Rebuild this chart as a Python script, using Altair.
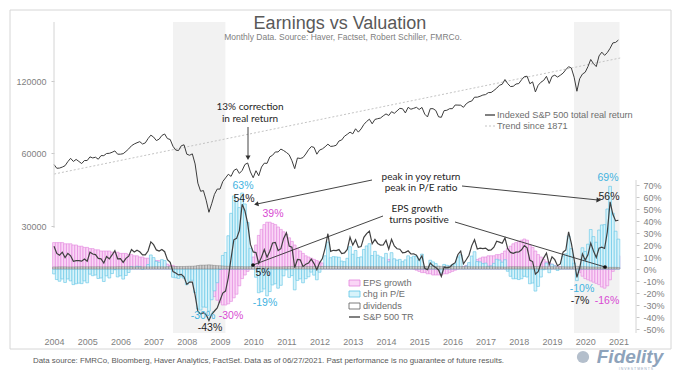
import math
import altair as alt
import pandas as pd

# ------------------------------------------------------------------
# Values: monthly, June 2004 .. June 2021
# ------------------------------------------------------------------
FIRST_YEAR, FIRST_MONTH = 2004, 6

# Indexed S&P 500 total real return (left, log axis)
real_return = [
    54000, 52100, 52200, 52700, 53400, 55500, 57300,
    55600, 56700, 55600, 54500, 56100, 56100, 58100, 57500, 57900, 56800, 58800, 58800,
    60000, 60100, 60700, 61500, 59600, 59600, 59900, 61200, 62700, 64600, 65700, 66500,
    67200, 65700, 66400, 69200, 71500, 70200, 67900, 68800, 71300, 72300, 69200, 68600,
    64300, 62000, 61700, 64600, 65200, 59600, 59000, 59800, 54300, 45200, 41800, 42100,
    38400, 34200, 37100, 40600, 42700, 42700, 45900, 47500, 49200, 48200, 51000, 51800,
    49600, 51000, 54000, 54800, 50300, 47600, 50900, 48500, 52700, 54700, 54600, 58100,
    59000, 60900, 60900, 62600, 61700, 60600, 59300, 56000, 51900, 57500, 57200, 57700,
    59700, 62200, 64100, 63600, 59600, 62000, 62700, 64000, 65600, 64200, 64400, 64900,
    67600, 68300, 70800, 72100, 73600, 72400, 76000, 73600, 75900, 79200, 81500, 83300,
    79700, 83100, 83700, 84200, 86000, 87600, 86300, 89500, 88100, 90200, 92400, 92000,
    88400, 93300, 91600, 92400, 93300, 91400, 93200, 87400, 85100, 92100, 92100, 90500,
    85200, 84800, 90400, 90700, 92100, 92100, 95400, 95300, 95200, 93300, 96500, 98300,
    99100, 102800, 102800, 103700, 104900, 105400, 107400, 107500, 109600, 112000, 115200, 116300,
    121700, 117000, 113800, 114100, 116600, 117100, 121400, 125100, 125600, 116900, 119000, 108100,
    115200, 118600, 120700, 125500, 117200, 125300, 126900, 124600, 126800, 129400, 133800, 137600,
    135800, 124400, 108800, 122600, 128200, 130500, 137700, 147400, 141600, 137700, 152500, 158100,
    153400, 157400, 164100, 172700, 173600, 177500,
]

# S&P 500 total return, year over year, % (right axis)
tr_yoy = [
    19, 13, 11.5, 14, 9.5, 13, 11,
    6.4, 7, 7, 6.5, 8.3, 6.4, 14, 12.5, 12, 8.8, 8.4, 5,
    10.4, 8.4, 11.7, 15.3, 8.5, 8.6, 5.5, 8.9, 10.7, 16.2, 14.2, 15.6,
    14.3, 11.8, 11.7, 15, 22.6, 20.3, 15.9, 15, 16.3, 14.4, 7.7, 5.5,
    -2.1, -3.4, -4.9, -4.5, -6.6, -12.8, -10.9, -11, -21.7, -35.4, -37.5, -36.5,
    -38.1, -43, -37.7, -35, -32.4, -26.2, -20.1, -18.4, -7.3, 8.9, 24.3, 25.5,
    32, 54, 48.5, 38, 20.5, 14.2, 13.7, 4.7, 9.9, 16.2, 9.8, 14.8,
    21.7, 22.2, 15.4, 16.9, 25.5, 30.1, 19.2, 18.2, 1.1, 7.9, 7.6, 2,
    4, 4.9, 8.2, 4.5, -0.6, 5.1, 8.7, 17.4, 29.4, 14.7, 15.6, 15.4,
    16.2, 12.9, 13.4, 16.3, 26.5, 19.9, 24.3, 18.1, 18.7, 26.4, 29.5, 31.6,
    21, 24.7, 21.3, 19.9, 20, 24, 16.5, 24.7, 19.2, 16.9, 16.5, 13.4,
    13.9, 15.2, 12.5, 12.7, 11.5, 7.3, 11, 0.5, -0.6, 5, 2.6, 1.3,
    -0.8, -6.2, 1.6, 1, 1.5, 3.7, 5.3, 12.1, 14.9, 4.3, 7.7, 11.5,
    19.5, 24.4, 16.7, 17.4, 17, 17.4, 15.6, 15.9, 18.2, 23.1, 22.4, 21.4,
    25.9, 16.8, 13.8, 13.1, 14.1, 14.2, 16, 19.4, 17.7, 7.3, 6.2, -4.2,
    -2.2, 4.6, 9.3, 13.3, 3.7, 10.2, 7.8, 2.8, 4.2, 14, 15.8, 30.9,
    21.3, 8.1, -7, 0.8, 12.6, 7.4, 11.8, 21.6, 15, 9.6, 17.3, 18.2,
    17.1, 31, 56, 45.6, 40.1, 40.6,
]

# EPS growth, %
eps_growth = [
    22, 22, 22, 22, 21, 21, 21,
    20, 20, 19, 19, 18, 18, 17, 17, 16, 16, 15, 15,
    15, 15, 14, 14, 14, 13, 13, 13, 12, 12, 11, 11,
    10, 10, 9, 9, 8, 8, 7, 7, 6, 5, 4, 3,
    3, 2, 1, 0, -1, -2, -3, -4, -5, -6, -8, -10,
    -12, -15, -19, -23, -26, -28, -30, -30, -29, -27, -24, -21,
    -14, -8, -5, -2, 1, 10, 20, 28, 33, 37, 39, 39,
    38, 37, 35, 33, 31, 29, 26, 23, 20, 17, 15, 13,
    11, 10, 9, 8, 7, 6, 5, 4, 4, 3, 3, 3,
    4, 4, 5, 5, 5, 5, 6, 6, 6, 7, 7, 7,
    7, 7, 7, 7, 8, 8, 8, 8, 8, 7, 6, 5,
    4, 2, 1, 0, -1, -2, -3, -3, -4, -4, -5, -5,
    -5, -5, -4, -4, -3, -2, -1, 0, 1, 2, 3, 4,
    6, 7, 8, 9, 10, 10, 11, 11, 11, 12, 12, 13,
    15, 17, 19, 21, 22, 23, 24, 25, 24, 20, 18, 15,
    12, 10, 8, 6, 5, 4, 3, 2, 2, 1, 1, 1,
    2, 1, 1, -3, -6, -8, -9, -10, -11, -12, -13, -15,
    -16, -14, -9, -2, 5, 11,
]

# change in P/E, %
pe_change = [
    -4.1, -8.8, -10.2, -8.3, -11.2, -8.3, -9.9,
    -13.0, -12.3, -11.8, -12.2, -9.9, -11.5, -4.3, -5.6, -5.0, -7.9, -7.5, -10.4,
    -5.7, -7.5, -3.8, -0.6, -6.6, -5.7, -8.4, -5.4, -2.9, 2.0, 1.1, 2.3,
    2.1, -0.2, 0.6, 3.7, 11.7, 9.5, 6.4, 5.6, 7.8, 7.0, 1.6, 0.5,
    -6.9, -7.3, -7.8, -6.5, -7.7, -13.1, -10.2, -9.4, -19.7, -33.4, -34.2, -31.7,
    -31.9, -35.1, -25.6, -18.2, -11.4, -0.3, 11.3, 13.7, 27.7, 46.4, 60.9, 56.3,
    51.2, 63.3, 54.2, 38.8, 17.3, 2.0, -6.9, -19.8, -18.9, -16.6, -22.4, -18.8,
    -13.3, -12.3, -16.0, -13.6, -5.7, -0.7, -7.0, -5.5, -17.4, -9.5, -8.2, -11.5,
    -8.1, -6.5, -2.6, -5.1, -9.0, -2.7, 1.6, 11.0, 22.5, 9.4, 10.3, 10.1,
    9.8, 6.6, 6.1, 8.9, 18.6, 12.3, 15.4, 9.5, 10.1, 16.3, 19.2, 21.1,
    11.2, 14.7, 11.5, 10.2, 9.3, 13.0, 6.0, 13.6, 8.5, 7.4, 8.0, 6.1,
    7.6, 11.0, 9.4, 10.7, 10.6, 7.4, 12.4, 1.5, 1.5, 7.3, 5.9, 4.5,
    2.3, -3.4, 3.8, 3.1, 2.6, 3.8, 4.3, 10.1, 11.8, 0.3, 2.6, 5.3,
    10.8, 14.4, 6.2, 5.9, 4.5, 4.9, 2.3, 2.6, 4.7, 8.1, 7.5, 5.7,
    7.7, -1.9, -6.1, -8.2, -8.1, -8.8, -8.1, -6.1, -6.7, -12.3, -11.7, -18.4,
    -14.5, -6.7, -0.6, 5.0, -3.1, 4.0, 2.7, -1.2, 0.2, 10.9, 12.7, 27.6,
    17.0, 5.0, -9.7, 1.9, 17.7, 14.6, 20.7, 32.9, 27.0, 22.3, 32.5, 36.7,
    37.0, 50.0, 68.9, 46.5, 31.5, 24.9,
]

# dividends, %
dividends = [
    1.7, 1.7, 1.8, 1.8, 1.8, 1.7, 1.7,
    1.7, 1.8, 1.8, 1.9, 1.8, 1.8, 1.8, 1.8, 1.8, 1.9, 1.8, 1.8,
    1.8, 1.8, 1.8, 1.8, 1.9, 1.9, 1.9, 1.9, 1.9, 1.8, 1.8, 1.8,
    1.8, 1.8, 1.8, 1.8, 1.8, 1.8, 1.9, 1.9, 1.9, 1.8, 1.9, 2.0,
    2.0, 2.1, 2.1, 2.1, 2.1, 2.2, 2.3, 2.3, 2.5, 2.9, 3.2, 3.2,
    3.3, 3.5, 3.3, 3.0, 2.8, 2.7, 2.5, 2.3, 2.2, 2.1, 2.0, 2.0,
    2.0, 2.0, 1.9, 1.9, 2.0, 2.1, 2.0, 2.1, 2.0, 1.9, 1.9, 1.9,
    1.8, 1.8, 1.8, 1.8, 1.9, 1.9, 2.0, 2.1, 2.2, 2.0, 2.0, 2.0,
    2.0, 2.0, 2.0, 2.0, 2.1, 2.1, 2.1, 2.1, 2.1, 2.1, 2.1, 2.1,
    2.0, 2.0, 2.0, 2.0, 1.9, 2.0, 1.9, 2.0, 1.9, 1.9, 1.9, 1.9,
    1.9, 1.9, 1.9, 1.9, 1.9, 1.9, 1.9, 1.9, 1.9, 1.9, 1.9, 1.9,
    2.0, 2.0, 2.0, 2.0, 2.0, 2.0, 2.0, 2.1, 2.2, 2.1, 2.1, 2.1,
    2.2, 2.2, 2.1, 2.1, 2.1, 2.1, 2.0, 2.0, 2.0, 2.0, 2.0, 2.0,
    1.9, 1.9, 1.9, 1.9, 1.9, 1.9, 1.9, 1.9, 1.9, 1.8, 1.8, 1.8,
    1.7, 1.8, 1.9, 1.9, 1.9, 1.9, 1.8, 1.8, 1.8, 1.9, 1.9, 2.1,
    2.0, 1.9, 1.9, 1.9, 2.0, 1.9, 1.9, 1.9, 1.9, 1.9, 1.8, 1.8,
    1.8, 1.9, 2.2, 2.0, 1.9, 1.9, 1.8, 1.7, 1.7, 1.7, 1.6, 1.5,
    1.5, 1.5, 1.4, 1.4, 1.4, 1.3,
]

# Trend since 1871 (straight on the log axis): end points
trend_time = [2004.42, 2021.47]
trend_value = [49300, 149500]

# shaded periods
shade_start = [2008.0, 2020.08]
shade_end = [2009.58, 2021.45]

years = list(range(2004, 2022))
left_ticks = [30000, 60000, 120000]
right_ticks = [70, 60, 50, 40, 30, 20, 10, 0, -10, -20, -30, -40, -50]

# ------------------------------------------------------------------
# Layout (page pixels)
# ------------------------------------------------------------------
PLOT_L, PLOT_T, PLOT_W, PLOT_H = 54, 12, 582, 321
PX_PER_YEAR = 33.2
X0 = FIRST_YEAR + (FIRST_MONTH - 1) / 12
XDOM = [X0, X0 + PLOT_W / PX_PER_YEAR]
ZERO_Y, PX_PER_PCT = 269, 1.2
RDOM = [-(PLOT_T + PLOT_H - ZERO_Y) / PX_PER_PCT, (ZERO_Y - PLOT_T) / PX_PER_PCT]
Y_120K, PX_PER_DOUBLING = 81, 72.5
LDOM = [120000 * 2 ** (-(PLOT_T + PLOT_H - Y_120K) / PX_PER_DOUBLING),
        120000 * 2 ** ((Y_120K - PLOT_T) / PX_PER_DOUBLING)]


def tx(px):
    return X0 + (px - PLOT_L) / PX_PER_YEAR


def py(px):
    return (ZERO_Y - px) / PX_PER_PCT


FONT = "Liberation Sans"
NOTE_FONT = "Lato"
GREY = "#7f7f7f"
PINK, PINK_FILL = "#e384dd", "#fad6f6"
CYAN, CYAN_FILL = "#5ec4e6", "#d8f3fa"
PINK_T, CYAN_T, BLACK_T = "#d84ad2", "#43b3df", "#1e1e1e"

n = len(real_return)
t = [FIRST_YEAR + (FIRST_MONTH - 1 + i) / 12 for i in range(n)]
df = pd.DataFrame({
    "t": t,
    "t0": [v - 1 / 24 for v in t],
    "t1": [v + 1 / 24 for v in t],
    "real": real_return,
    "yoy": tr_yoy,
    "eps": eps_growth,
    "pe": pe_change,
    "div": dividends,
})
trend_df = pd.DataFrame({"t": trend_time, "v": trend_value})
shade_df = pd.DataFrame({"b0": shade_start, "b1": shade_end})
one = pd.DataFrame({"a": [0]})

XS = alt.Scale(domain=XDOM, nice=False, zero=False)
XAX = alt.Axis(values=[y + (FIRST_MONTH - 1) / 12 for y in years], labelExpr="floor(datum.value)",
               domain=False, ticks=False, grid=False, labelFont=FONT, labelFontSize=9,
               labelColor=GREY, labelPadding=4, labelOverlap=False, labelFlush=False)
LS = alt.Scale(type="log", domain=LDOM, nice=False)
LAX = alt.Axis(values=left_ticks, format="d", orient="left", domain=False, grid=False,
               tickSize=3, tickColor="#c8c8c8", labelPadding=5, labelFont=FONT,
               labelFontSize=9, labelColor=GREY)
RS = alt.Scale(domain=RDOM, nice=False, zero=False)
RAX = alt.Axis(values=right_ticks, labelExpr="datum.value + '%'", orient="right", domain=False,
               grid=False, tickSize=3, tickColor="#c8c8c8", labelPadding=4, labelFont=FONT,
               labelFontSize=9, labelColor=GREY)


def X(f="t:Q"):
    return alt.X(f, scale=XS, axis=XAX, title=None)


def YL(f):
    return alt.Y(f, scale=LS, axis=LAX, title=None)


def YR(f):
    return alt.Y(f, scale=RS, axis=RAX, title=None)


# ---------------- left (log) group ----------------
shade = alt.Chart(shade_df).mark_rect(color="#f2f2f2").encode(
    x=X("b0:Q"), x2="b1:Q", y=alt.value(10), y2=alt.value(PLOT_H))
trend = alt.Chart(trend_df).mark_line(color="#c4c4c4", strokeWidth=1, strokeDash=[2, 2]).encode(
    x=X(), y=YL("v:Q"))
real = alt.Chart(df).mark_line(color="#3c3c3c", strokeWidth=1).encode(x=X(), y=YL("real:Q"))
laxis = alt.Chart(one).mark_rule(color="#d4d4d4").encode(
    x=alt.value(0), y=alt.value(10), y2=alt.value(216))
left = alt.layer(shade, trend, real, laxis)

# ---------------- right (%) group ----------------
pink = alt.Chart(df).mark_bar(fill=PINK_FILL, stroke=PINK, strokeWidth=0.6).encode(
    x=X("t0:Q"), x2="t1:Q", y=YR("eps:Q"), y2=alt.datum(0))
cyan = alt.Chart(df).mark_bar(fill=CYAN_FILL, stroke=CYAN, strokeWidth=0.6).encode(
    x=X("t0:Q"), x2="t1:Q", y=YR("pe:Q"), y2=alt.datum(0))
div = alt.Chart(df).mark_bar(fill="#d0d0d0", stroke="#606060", strokeWidth=0.35).encode(
    x=X("t0:Q"), x2="t1:Q", y=YR("div:Q"), y2=alt.datum(0))
yoy = alt.Chart(df).mark_line(color="#404040", strokeWidth=1.2).encode(x=X(), y=YR("yoy:Q"))
raxis = alt.Chart(one).mark_rule(color="#d4d4d4").encode(
    x=alt.value(PLOT_W), y=alt.value(168), y2=alt.value(PLOT_H))

pct_labels = [
    ("63%", 243, 186, CYAN_T), ("54%", 244, 199, BLACK_T), ("39%", 273, 214, PINK_T),
    ("5%", 263, 273, BLACK_T), ("-19%", 265, 303, CYAN_T), ("-30%", 203, 316, CYAN_T),
    ("-30%", 231, 316, PINK_T), ("-43%", 210, 328, BLACK_T), ("-10%", 582, 289, CYAN_T),
    ("-7%", 580, 301, BLACK_T), ("-16%", 607, 301, PINK_T), ("69%", 608, 178, CYAN_T),
    ("56%", 609, 197, BLACK_T),
]
lab_df = pd.DataFrame({"txt": [a[0] for a in pct_labels], "t": [tx(a[1]) for a in pct_labels],
                       "p": [py(a[2]) for a in pct_labels], "c": [a[3] for a in pct_labels]})
labels = alt.Chart(lab_df).mark_text(font=FONT, fontSize=10.5, baseline="middle").encode(
    x=X(), y=YR("p:Q"), text="txt:N", color=alt.Color("c:N", scale=None))

notes = [("13% correction", 250, 107), ("in real return", 250, 119),
         ("peak in yoy return", 421, 177), ("peak in P/E ratio", 421, 188),
         ("EPS growth", 417, 209), ("turns positive", 419, 220)]
note_df = pd.DataFrame({"txt": [a[0] for a in notes], "t": [tx(a[1]) for a in notes],
                        "p": [py(a[2]) for a in notes]})
note_text = alt.Chart(note_df).mark_text(font=NOTE_FONT, fontSize=10, color="#262626",
                                         baseline="middle").encode(
    x=X(), y=YR("p:Q"), text="txt:N")

arrows = [(248, 127, 248, 157, "head"), (372, 180, 257, 204, "head"),
          (462, 186, 598, 200, "head"), (383, 216, 253, 265, "dot"),
          (455, 222, 605, 267, "dot")]
arr_df = pd.DataFrame({
    "x1": [tx(a[0]) for a in arrows], "y1": [py(a[1]) for a in arrows],
    "x2": [tx(a[2]) for a in arrows], "y2": [py(a[3]) for a in arrows],
    "kind": [a[4] for a in arrows],
    "ang": [math.degrees(math.atan2(a[2] - a[0], -(a[3] - a[1]))) % 360 for a in arrows],
})
arrow_lines = alt.Chart(arr_df).mark_rule(color="#303030", strokeWidth=0.9).encode(
    x=X("x1:Q"), x2="x2:Q", y=YR("y1:Q"), y2="y2:Q")
heads = alt.Chart(arr_df).transform_filter("datum.kind == 'head'").mark_point(
    shape="triangle", filled=True, size=26, color="#303030", opacity=1).encode(
    x=X("x2:Q"), y=YR("y2:Q"), angle=alt.Angle("ang:Q", scale=None))
dots = alt.Chart(arr_df).transform_filter("datum.kind == 'dot'").mark_point(
    shape="circle", filled=True, size=14, color="#111111", opacity=1).encode(
    x=X("x2:Q"), y=YR("y2:Q"))

# lower legend
leg_rows = [("EPS growth", 283, PINK_FILL, PINK), ("chg in P/E", 294, CYAN_FILL, CYAN),
            ("dividends", 306, "#ffffff", "#5a5a5a")]
leg_df = pd.DataFrame({
    "x1": [tx(349)] * 3, "x2": [tx(360)] * 3,
    "y1": [py(r[1] - 3) for r in leg_rows], "y2": [py(r[1] + 3) for r in leg_rows],
    "f": [r[2] for r in leg_rows], "s": [r[3] for r in leg_rows]})
leg_sw = alt.Chart(leg_df).mark_rect(strokeWidth=0.8).encode(
    x=X("x1:Q"), x2="x2:Q", y=YR("y1:Q"), y2="y2:Q",
    fill=alt.Fill("f:N", scale=None), stroke=alt.Stroke("s:N", scale=None))
leg_line_df = pd.DataFrame({"x1": [tx(349), tx(485)], "x2": [tx(360), tx(495)],
                            "y": [py(317), py(115)]})
leg_line = alt.Chart(leg_line_df).mark_rule(color="#3c3c3c", strokeWidth=1.3).encode(
    x=X("x1:Q"), x2="x2:Q", y=YR("y:Q"))
leg_trend = alt.Chart(pd.DataFrame({"x1": [tx(485)], "x2": [tx(495)], "y": [py(126)]})).mark_rule(
    color="#c4c4c4", strokeWidth=1, strokeDash=[2, 2]).encode(x=X("x1:Q"), x2="x2:Q", y=YR("y:Q"))
leg_txt_rows = [("EPS growth", 363, 283), ("chg in P/E", 363, 294),
                ("dividends", 363, 306), ("S&P 500 TR", 363, 317),
                ("Indexed S&P 500 total real return", 497, 115),
                ("Trend since 1871", 497, 126)]
leg_txt_df = pd.DataFrame({"txt": [r[0] for r in leg_txt_rows], "t": [tx(r[1]) for r in leg_txt_rows],
                           "p": [py(r[2]) for r in leg_txt_rows]})
leg_txt = alt.Chart(leg_txt_df).mark_text(font=FONT, fontSize=9.2, color="#6e6e6e", align="left",
                                          baseline="middle").encode(
    x=X(), y=YR("p:Q"), text="txt:N")

# frame, title, footer (page-pixel decoration)
frame = alt.Chart(one).mark_rect(fillOpacity=0, stroke="#d6d6d6", strokeWidth=1).encode(
    x=alt.value(10 - PLOT_L), x2=alt.value(671 - PLOT_L),
    y=alt.value(10 - PLOT_T), y2=alt.value(349 - PLOT_T))
title = alt.Chart(one).mark_text(text="Earnings vs Valuation", font=FONT, fontSize=18,
                                 color="#595959", baseline="alphabetic").encode(
    x=alt.value(340 - PLOT_L), y=alt.value(29 - PLOT_T))
subtitle = alt.Chart(one).mark_text(
    text="Monthly Data. Source: Haver, Factset, Robert Schiller, FMRCo.", font=FONT,
    fontSize=8.5, color="#808080", baseline="middle").encode(
    x=alt.value(343 - PLOT_L), y=alt.value(37 - PLOT_T))
footer = alt.Chart(one).mark_text(
    text="Data source: FMRCo, Bloomberg, Haver Analytics, FactSet. Data as of 06/27/2021. "
         "Past performance is no guarantee of future results.",
    font=FONT, fontSize=7.9, color="#595959", align="left", baseline="middle").encode(
    x=alt.value(33 - PLOT_L), y=alt.value(361 - PLOT_T))
logo = alt.Chart(one).mark_text(text="Fidelity", font=FONT, fontSize=19, fontWeight="bold",
                                fontStyle="italic", color="#8ea3bb", baseline="alphabetic").encode(
    x=alt.value(630 - PLOT_L), y=alt.value(363 - PLOT_T))
logo_sub = alt.Chart(one).mark_text(text="I N V E S T M E N T S", font=FONT, fontSize=3.5,
                                    color="#9aabbf", baseline="middle").encode(
    x=alt.value(636 - PLOT_L), y=alt.value(368.5 - PLOT_T))
logo_icon = alt.Chart(one).mark_point(shape="circle", filled=True, size=150, color="#b4bfcc",
                                      opacity=1).encode(
    x=alt.value(583 - PLOT_L), y=alt.value(357 - PLOT_T))

right = alt.layer(pink, cyan, div, yoy, raxis, arrow_lines, heads, dots, labels, note_text,
                  leg_sw, leg_line, leg_trend, leg_txt, frame, title, subtitle, footer,
                  logo_icon, logo, logo_sub)

chart = alt.layer(left, right).resolve_scale(y="independent").properties(
    width=PLOT_W, height=PLOT_H,
    padding={"left": PLOT_L - 8, "top": PLOT_T - 8, "right": 664 - (PLOT_L - 8) - PLOT_W,
             "bottom": 364 - (PLOT_T - 8) - PLOT_H},
    autosize=alt.AutoSizeParams(type="none"),
    background="white",
).configure_view(stroke=None)

chart.save("out.html", embed_options={"renderer": "svg", "actions": False})
